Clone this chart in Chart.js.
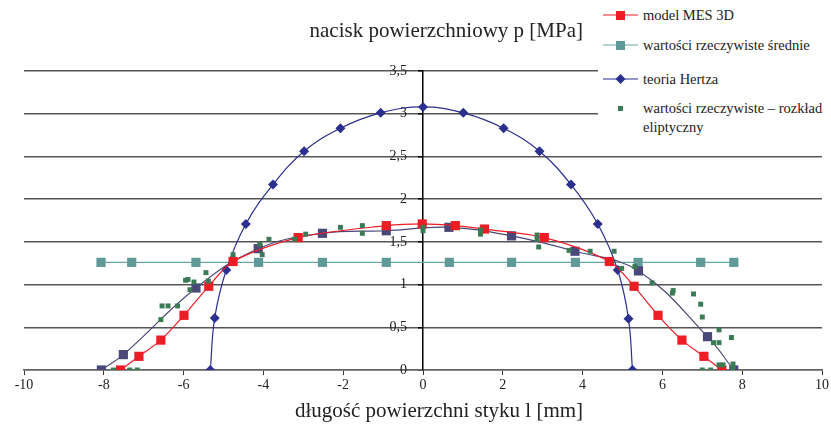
<!DOCTYPE html>
<html>
<head>
  <title>nacisk powierzchniowy</title>
  <style>
    body {
      margin: 0;
      background-color: #FFF;
      font-family: "Liberation Serif", "DejaVu Serif", serif;
      color: #222;
    }

    #wrap {
      position: relative;
      width: 831px;
      height: 429px;
    }

    #chart {
      position: absolute;
      left: 0;
      top: 0;
    }

    #title {
      position: absolute;
      right: 248px;
      top: 17px;
      font-size: 21px;
      line-height: 26px;
      white-space: nowrap;
    }

    #xTitle {
      position: absolute;
      left: 0;
      width: 878px;
      top: 397px;
      text-align: center;
      font-size: 21px;
      line-height: 26px;
      white-space: nowrap;
    }

    #legend {
      position: absolute;
      left: 598px;
      top: 0;
      width: 233px;
      height: 140px;
      background-color: #FFF;
      font-size: 14.5px;
    }

    .item {
      position: absolute;
      left: 5px;
      height: 20px;
    }

    .item svg {
      position: absolute;
      left: 0;
      top: 0;
    }

    .item span {
      position: absolute;
      left: 40px;
      top: 1px;
      line-height: 19px;
      white-space: nowrap;
    }
  </style>
</head>
<body>
  <div id="wrap">
    <canvas id="chart" width="831" height="429"></canvas>
    <div id="title">nacisk powierzchniowy p [MPa]</div>
    <div id="xTitle">długość powierzchni styku l [mm]</div>
    <div id="legend">
      <div class="item" style="top:5px">
        <svg width="40" height="20"><line x1="0" y1="10" x2="35" y2="10" stroke="#ee1c25" stroke-width="1.2"/><rect x="13" y="6" width="9" height="9" fill="#ee1c25"/></svg>
        <span>model MES 3D</span>
      </div>
      <div class="item" style="top:35px">
        <svg width="40" height="20"><line x1="0" y1="10" x2="35" y2="10" stroke="#6aa5a3" stroke-width="1.2"/><rect x="13" y="6" width="9" height="9" fill="#5f9998"/></svg>
        <span>wartości rzeczywiste średnie</span>
      </div>
      <div class="item" style="top:69px">
        <svg width="40" height="20"><line x1="0" y1="10" x2="35" y2="10" stroke="#2b2f8f" stroke-width="1.2"/><polygon points="17.5,5 22.5,10 17.5,15 12.5,10" fill="#2b2f8f"/></svg>
        <span>teoria Hertza</span>
      </div>
      <div class="item" style="top:98px">
        <svg width="40" height="20"><rect x="15" y="8" width="5" height="5" fill="#3a7a55"/></svg>
        <span>wartości rzeczywiste – rozkład<br>eliptyczny</span>
      </div>
    </div>
  </div>

  <script src="https://cdn.jsdelivr.net/npm/chart.js"></script>

  <script>
    // model MES 3D
    var mesX = [-7.58, -7.12, -6.57, -5.99, -5.37, -4.76, -3.13, -0.92, -0.02, 0.81, 1.54, 3.04, 4.67, 5.29, 5.89, 6.49, 7.04, 7.49];
    var mesY = [0, 0.16, 0.35, 0.64, 0.98, 1.27, 1.55, 1.69, 1.71, 1.69, 1.65, 1.55, 1.27, 0.98, 0.64, 0.35, 0.16, 0];

    // wartosci rzeczywiste srednie
    var avgX = [-8.07, -7.30, -5.69, -4.12, -2.52, -0.92, 0.66, 2.22, 3.82, 5.39, 6.96, 7.79];
    var avgY = [1.26, 1.26, 1.26, 1.26, 1.26, 1.26, 1.26, 1.26, 1.26, 1.26, 1.26, 1.26];

    // teoria Hertza
    var hertzX = [-5.33, -5.22, -4.93, -4.44, -3.76, -2.98, -2.07, -1.06, 0, 1.01, 2.02, 2.92, 3.71, 4.38, 4.88, 5.15, 5.25];
    var hertzY = [0, 0.61, 1.17, 1.71, 2.17, 2.56, 2.83, 3.01, 3.08, 3.01, 2.83, 2.56, 2.17, 1.71, 1.17, 0.60, 0];

    // unlabelled fitted curve (dark slate)
    var fitX = [-8.06, -7.51, -5.69, -4.13, -2.52, -0.92, 0.65, 2.22, 3.81, 5.40, 7.13, 7.79];
    var fitY = [0, 0.18, 0.96, 1.42, 1.60, 1.63, 1.67, 1.57, 1.39, 1.16, 0.39, 0];

    // wartosci rzeczywiste - rozklad eliptyczny
    var ellX = [-7.76, -7.35, -7.16, -6.57, -6.54, -6.39, -6.15, -5.95, -5.89, -5.74, -5.84, -5.44, -5.38,
                -4.76, -4.09, -4.03, -3.86, -3.22, -2.94, -2.07, -1.52, -1.52, 0, 0, 1.44, 1.44,
                2.86, 2.86, 2.90, 3.66, 4.19, 4.79, 4.98, 5.31, 5.74, 6.27, 6.25, 6.78, 6.96, 7.0,
                7.42, 7.73, 7.28, 7.42, 7.0, 7.21, 7.42, 7.52, 7.77, 7.77];
    var ellY = [0, 0, 0, 0.59, 0.75, 0.75, 0.75, 1.05, 1.06, 1.03, 0.94, 1.14, 1.04,
                1.35, 1.47, 1.35, 1.53, 1.53, 1.59, 1.67, 1.69, 1.60, 1.67, 1.63, 1.64, 1.59,
                1.58, 1.53, 1.44, 1.40, 1.39, 1.39, 1.19, 1.21, 1.02, 0.93, 0.90, 0.89, 0.77, 0.62,
                0.47, 0.38, 0.32, 0.32, 0, 0, 0.06, 0.06, 0.07, 0.02];

    var yTicks = ['0', '0,5', '1', '1,5', '2', '2,5', '3', '3,5'];

    function toPoints(xs, ys) {
      var pts = [];
      for (var i = 0; i < xs.length; i++) {
        pts.push({ x: xs[i], y: ys[i] });
      }
      return pts;
    }

    var ctx = document.getElementById('chart').getContext('2d');
    var myChart = new Chart(ctx, {
      type: 'scatter',
      data: {
        datasets: [
          {
            label: 'wartości rzeczywiste – rozkład eliptyczny',
            data: toPoints(ellX, ellY),
            showLine: false,
            pointStyle: 'rect',
            pointRadius: 3.5,
            backgroundColor: '#3a7a55',
            borderWidth: 0,
            order: 0
          },
          {
            label: 'model MES 3D',
            data: toPoints(mesX, mesY),
            showLine: true,
            tension: 0.3,
            borderColor: '#ee1c25',
            borderWidth: 1.2,
            pointStyle: 'rect',
            pointRadius: 6.5,
            pointBackgroundColor: '#ee1c25',
            pointBorderWidth: 0,
            order: 1
          },
          {
            label: 'teoria Hertza',
            data: toPoints(hertzX, hertzY),
            showLine: true,
            tension: 0.4,
            borderColor: '#2b2f8f',
            borderWidth: 1.2,
            pointStyle: 'rectRot',
            pointRadius: 5,
            pointBackgroundColor: '#2b2f8f',
            pointBorderWidth: 0,
            order: 2
          },
          {
            label: 'krzywa',
            data: toPoints(fitX, fitY),
            showLine: true,
            tension: 0.4,
            borderColor: '#4a4878',
            borderWidth: 1.2,
            pointStyle: 'rect',
            pointRadius: 6.5,
            pointBackgroundColor: '#4a4878',
            pointBorderWidth: 0,
            order: 3
          },
          {
            label: 'wartości rzeczywiste średnie',
            data: toPoints(avgX, avgY),
            showLine: true,
            tension: 0,
            borderColor: '#6aa5a3',
            borderWidth: 1.2,
            pointStyle: 'rect',
            pointRadius: 6.5,
            pointBackgroundColor: '#5f9998',
            pointBorderWidth: 0,
            order: 4
          }
        ]
      },
      options: {
        responsive: false,
        animation: false,
        layout: {
          padding: { left: 24, right: 8, top: 71, bottom: 0 }
        },
        plugins: {
          legend: { display: false },
          tooltip: { enabled: false }
        },
        scales: {
          x: {
            type: 'linear',
            min: -10,
            max: 10,
            afterFit: function (scale) { scale.height = 59; },
            ticks: {
              stepSize: 2,
              padding: 2,
              color: '#222',
              font: { family: 'Liberation Serif', size: 14 }
            },
            grid: {
              drawOnChartArea: false,
              tickLength: 5,
              tickColor: '#333'
            },
            border: { color: '#666', width: 1.5 }
          },
          y: {
            type: 'linear',
            position: { x: 0 },
            min: 0,
            max: 3.5,
            ticks: {
              stepSize: 0.5,
              display: false
            },
            grid: {
              color: '#555',
              lineWidth: 1.5,
              tickLength: 4,
              tickColor: '#000'
            },
            border: { color: '#000', width: 1.5 }
          },
          // second y scale only for the tick labels, set a bit left of the axis
          yLabels: {
            type: 'linear',
            position: { x: -0.4 },
            min: 0,
            max: 3.5,
            ticks: {
              stepSize: 0.5,
              color: '#222',
              font: { family: 'Liberation Serif', size: 14 },
              callback: function (value, index) { return yTicks[index]; }
            },
            grid: { display: false },
            border: { display: false }
          }
        }
      }
    });
  </script>
</body>
</html>
